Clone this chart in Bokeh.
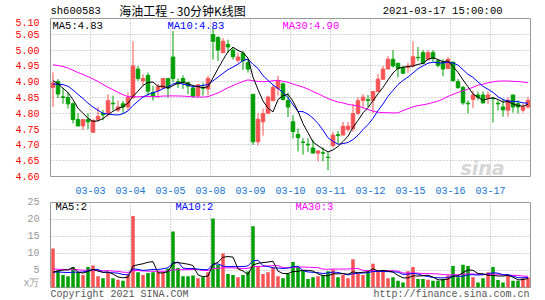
from bokeh.plotting import figure
from bokeh.models import FixedTicker, Label, ColumnDataSource, Range1d, PrintfTickFormatter
from bokeh.layouts import column
from bokeh.embed import file_html
from bokeh.resources import INLINE

symbol = "sh600583"
title_text = "海油工程 - 30分钟K线图"
timestamp = "2021-03-17 15:00:00"
day_labels = ["03-03", "03-04", "03-05", "03-08", "03-09", "03-10",
              "03-11", "03-12", "03-15", "03-16", "03-17"]
price_legend = ["MA5:4.83", "MA10:4.83", "MA30:4.90"]
vol_legend = ["MA5:2", "MA10:2", "MA30:3"]
copyright_text = "Copyright 2021 SINA.COM"
url_text = "http://finance.sina.com.cn"

opens = [4.882, 4.90, 4.852, 4.85, 4.83, 4.78, 4.76, 4.78, 4.74, 4.781,
         4.80, 4.80, 4.832, 4.81, 4.83, 4.82, 4.85, 4.94, 4.903, 4.92,
         4.866, 4.872, 4.88, 4.91, 4.978, 4.90, 4.91, 4.897, 4.88, 4.856,
         4.882, 4.877, 5.049, 5.04, 4.992, 5.018, 5.00, 4.968, 4.99, 4.96,
         4.86, 4.71, 4.773, 4.80, 4.84, 4.879, 4.893, 4.84, 4.773, 4.733,
         4.709, 4.702, 4.69, 4.674, 4.675, 4.661, 4.698, 4.732, 4.731, 4.749,
         4.752, 4.80, 4.841, 4.843, 4.841, 4.869, 4.908, 4.94, 4.971, 4.958,
         4.945, 4.945, 4.95, 4.977, 4.992, 4.971, 4.992, 4.966, 4.962, 4.942,
         4.962, 4.90, 4.882, 4.832, 4.844, 4.858, 4.858, 4.848, 4.848, 4.832,
         4.82, 4.81, 4.858, 4.83, 4.81, 4.82]
highs = [4.929, 4.908, 4.88, 4.866, 4.835, 4.80, 4.78, 4.80, 4.78, 4.82,
         4.81, 4.86, 4.856, 4.84, 4.84, 4.866, 5.028, 4.95, 4.924, 4.929,
         4.887, 4.893, 4.91, 4.91, 5.06, 4.91, 4.92, 4.90, 4.887, 4.893,
         4.897, 4.919, 5.07, 5.044, 5.038, 5.033, 5.01, 4.992, 4.997, 4.97,
         4.86, 4.80, 4.815, 4.856, 4.89, 4.919, 4.898, 4.866, 4.794, 4.752,
         4.721, 4.721, 4.716, 4.681, 4.692, 4.677, 4.742, 4.744, 4.773, 4.773,
         4.83, 4.851, 4.861, 4.858, 4.869, 4.924, 4.95, 4.981, 5.00, 4.96,
         4.95, 4.96, 5.028, 5.01, 5.00, 5.00, 5.00, 4.971, 4.971, 4.978,
         4.962, 4.908, 4.887, 4.841, 4.872, 4.869, 4.869, 4.869, 4.851, 4.841,
         4.846, 4.851, 4.858, 4.841, 4.83, 4.851]
lows = [4.82, 4.848, 4.83, 4.815, 4.768, 4.76, 4.747, 4.75, 4.74, 4.773,
        4.778, 4.79, 4.81, 4.804, 4.80, 4.81, 4.846, 4.903, 4.887, 4.856,
        4.84, 4.848, 4.877, 4.85, 4.898, 4.88, 4.877, 4.86, 4.85, 4.848,
        4.856, 4.856, 4.97, 4.966, 4.992, 4.992, 4.97, 4.96, 4.937, 4.929,
        4.70, 4.698, 4.729, 4.80, 4.84, 4.856, 4.84, 4.788, 4.72, 4.679,
        4.669, 4.677, 4.674, 4.648, 4.648, 4.62, 4.692, 4.705, 4.731, 4.742,
        4.742, 4.795, 4.815, 4.82, 4.80, 4.867, 4.906, 4.94, 4.945, 4.914,
        4.924, 4.929, 4.945, 4.966, 4.955, 4.966, 4.963, 4.945, 4.917, 4.94,
        4.90, 4.877, 4.827, 4.80, 4.817, 4.841, 4.83, 4.83, 4.771, 4.809,
        4.789, 4.789, 4.802, 4.799, 4.802, 4.815]
closes = [4.896, 4.861, 4.850, 4.83, 4.78, 4.76, 4.78, 4.773, 4.778, 4.79,
          4.795, 4.84, 4.83, 4.82, 4.82, 4.85, 4.95, 4.91, 4.91, 4.87,
          4.854, 4.884, 4.91, 4.88, 4.91, 4.893, 4.897, 4.886, 4.854, 4.89,
          4.879, 4.91, 5.028, 5.00, 5.028, 5.01, 4.979, 4.978, 4.966, 4.94,
          4.71, 4.781, 4.799, 4.851, 4.882, 4.903, 4.844, 4.82, 4.742, 4.723,
          4.708, 4.70, 4.674, 4.681, 4.674, 4.66, 4.731, 4.73, 4.759, 4.759,
          4.799, 4.84, 4.851, 4.841, 4.869, 4.908, 4.94, 4.971, 4.95, 4.942,
          4.927, 4.95, 4.979, 4.976, 4.958, 4.992, 4.973, 4.952, 4.94, 4.971,
          4.903, 4.882, 4.833, 4.83, 4.858, 4.851, 4.833, 4.858, 4.846, 4.83,
          4.811, 4.841, 4.82, 4.82, 4.82, 4.841]
volumes = [11.5, 5.0, 3.7, 3.3, 6.0, 4.5, 3.7, 6.0, 6.5, 3.3,
           2.7, 4.5, 2.7, 2.3, 2.0, 3.7, 21.0, 4.5, 3.7, 4.3,
           4.5, 4.5, 4.5, 5.5, 16.5, 5.7, 3.3, 3.3, 3.5, 2.7,
           3.0, 4.5, 20.3, 6.7, 10.0, 4.0, 3.7, 3.0, 3.7, 4.7,
           18.0, 6.2, 4.0, 4.5, 6.0, 3.3, 2.7, 4.0, 7.5, 6.2,
           5.0, 2.5, 3.0, 3.3, 3.7, 4.8, 5.3, 3.0, 3.7, 2.7,
           8.3, 4.0, 3.7, 4.5, 7.0, 5.0, 5.0, 2.7, 3.0, 2.0,
           1.5, 4.8, 6.0, 2.5, 2.5, 2.3, 2.0, 2.0, 2.5, 3.5,
           6.3, 3.0, 6.7, 6.3, 3.0, 1.5, 2.7, 4.5, 6.0, 2.2,
           1.5, 3.5, 2.0, 2.0, 2.7, 3.0]
# estimated bars before the visible window (needed for the moving averages)
prior_closes = [4.93, 4.95, 4.97, 4.99, 4.98, 4.96, 4.98, 5.00,
                5.03, 5.08, 5.10, 5.07, 5.06, 5.05, 5.03,
                4.96, 4.92, 4.88, 4.86, 4.88,
                4.87, 4.86, 4.88, 4.90, 4.90,
                4.91, 4.92, 4.90, 4.89]
prior_volumes = [6, 5, 7, 4, 6, 8, 5, 6, 5, 7,
                 4, 6, 5, 9, 6, 5, 4, 7, 6, 6,
                 4, 5, 4, 5, 4.5, 3, 2.5, 3, 2.5]

UP = "#f65454"
DOWN = "#009f00"
n = len(closes)
idx = list(range(n))
colors = [UP if c >= o else DOWN for o, c in zip(opens, closes)]


def moving_average(prior, vals, w):
    allv = prior + vals
    k = len(prior)
    return [sum(allv[k + i - w + 1:k + i + 1]) / w for i in range(len(vals))]


src = ColumnDataSource(dict(
    x=idx, o=opens, h=highs, l=lows, c=closes, v=volumes, col=colors,
    top=[max(o, c) for o, c in zip(opens, closes)],
    bot=[min(o, c) for o, c in zip(opens, closes)],
    ma5=moving_average(prior_closes, closes, 5),
    ma10=moving_average(prior_closes, closes, 10),
    ma30=moving_average(prior_closes, closes, 30),
    vma5=moving_average(prior_volumes, volumes, 5),
    vma10=moving_average(prior_volumes, volumes, 10),
    vma30=moving_average(prior_volumes, volumes, 30),
))

MONO = "Liberation Mono"
day_ticks = [7.5 + 8 * k for k in range(len(day_labels))]


def style(p):
    p.outline_line_color = "#999999"
    p.outline_line_width = 1
    p.background_fill_color = "white"
    p.border_fill_color = "white"
    for ax in p.axis:
        ax.axis_line_color = None
        ax.major_tick_line_color = None
        ax.minor_tick_line_color = None
        ax.major_label_text_font = MONO
        ax.major_label_text_font_size = "10px"
        ax.major_label_standoff = 5
    for g in (p.xgrid, p.ygrid):
        g.grid_line_color = "#aaaaaa"
        g.grid_line_dash = "1 2"
        g.grid_line_width = 1


def text_strip(height):
    # the column aligns this strip's frame with the panels' frames (page x 50..530)
    s = figure(width=545, height=height, x_range=Range1d(50, 530), y_range=Range1d(0, height),
               output_backend="svg", toolbar_location=None,
               min_border_left=50, min_border_right=15, min_border_top=0, min_border_bottom=0)
    s.axis.visible = False
    s.grid.visible = False
    s.outline_line_color = None
    s.background_fill_color = "white"
    s.border_fill_color = "white"
    return s


# ---------------- header ----------------
hdr = text_strip(18)
hdr.add_layout(Label(x=50, y=8, text=symbol, text_font=MONO, text_font_size="10.5px",
                     text_color="black", text_baseline="middle", text_align="left"))
hdr.add_layout(Label(x=182, y=8, text=title_text, text_font="Noto Sans CJK SC",
                     text_font_size="12px", text_color="black", text_baseline="middle",
                     text_align="center"))
hdr.add_layout(Label(x=502, y=8, text=timestamp, text_font=MONO, text_font_size="10.5px",
                     text_color="black", text_baseline="middle", text_align="right"))

# ---------------- price panel ----------------
p1 = figure(width=545, height=178, x_range=Range1d(-0.5, 95.5), y_range=Range1d(4.60, 5.10),
            output_backend="svg", toolbar_location=None,
            min_border_left=50, min_border_right=15, min_border_top=0, min_border_bottom=18)
p1.segment(x0="x", y0="l", x1="x", y1="h", color="col", line_width=1, source=src)
p1.vbar(x="x", width=0.7, top="top", bottom="bot", fill_color="col", line_color="col",
        line_width=1, source=src)
p1.line("x", "ma30", color="#ff00ff", line_width=1, source=src)
p1.line("x", "ma10", color="#0000ff", line_width=1, source=src)
p1.line("x", "ma5", color="#000000", line_width=1, source=src)

p1.yaxis.ticker = FixedTicker(ticks=[round(4.60 + 0.05 * k, 2) for k in range(11)])
p1.yaxis.formatter = PrintfTickFormatter(format="%.2f")
p1.xaxis.ticker = FixedTicker(ticks=day_ticks)
p1.xaxis.major_label_overrides = {t: lab for t, lab in zip(day_ticks, day_labels)}
style(p1)
p1.yaxis.major_label_text_color = "#ff0000"
p1.xaxis.major_label_text_color = "#1874cd"
p1.xaxis.major_label_standoff = 4

leg_y = 5.077
for xx, txt, colr in zip([-0.1, 22.9, 45.9], price_legend, ["black", "#0000ff", "#ff00ff"]):
    p1.add_layout(Label(x=xx, y=leg_y, text=txt, text_font=MONO, text_font_size="10.5px",
                        text_color=colr, text_baseline="middle", text_align="left"))
p1.add_layout(Label(x=81.5, y=4.627, text="sina", text_font="DejaVu Sans",
                    text_font_style="bold italic", text_font_size="19px",
                    text_color="#d6d6d6", text_baseline="middle", text_align="left"))

# ---------------- volume panel ----------------
p2 = figure(width=545, height=92, x_range=p1.x_range, y_range=Range1d(0, 25),
            output_backend="svg", toolbar_location=None,
            min_border_left=50, min_border_right=15, min_border_top=6, min_border_bottom=1)
p2.vbar(x="x", width=0.7, top="v", bottom=0, fill_color="col", line_color=None, source=src)
p2.line("x", "vma30", color="#ff00ff", line_width=1, source=src)
p2.line("x", "vma10", color="#0000ff", line_width=1, source=src)
p2.line("x", "vma5", color="#000000", line_width=1, source=src)
p2.yaxis.ticker = FixedTicker(ticks=[0, 5, 10, 15, 20, 25])
p2.yaxis.major_label_overrides = {0: "x万"}
p2.xaxis.visible = False
p2.xgrid.ticker = FixedTicker(ticks=day_ticks)
p2.ygrid.ticker = FixedTicker(ticks=[5, 10, 15, 20])
style(p2)
p2.yaxis.major_label_text_color = "#999999"

vleg_y = 23.8
for xx, txt, colr in zip([0.5, 24.5, 48.5], vol_legend, ["black", "#0000ff", "#ff00ff"]):
    p2.add_layout(Label(x=xx, y=vleg_y, text=txt, text_font=MONO, text_font_size="10.5px",
                        text_color=colr, text_baseline="middle", text_align="left"))

# ---------------- footer ----------------
ftr = text_strip(12)
ftr.add_layout(Label(x=50, y=6, text=copyright_text, text_font=MONO,
                     text_font_size="10px", text_color="#555555", text_baseline="middle",
                     text_align="left"))
ftr.add_layout(Label(x=529, y=6, text=url_text, text_font=MONO,
                     text_font_size="10px", text_color="#555555", text_baseline="middle",
                     text_align="right"))

layout = column(hdr, p1, p2, ftr, spacing=0)
open("out.html", "w").write(file_html(layout, INLINE))
